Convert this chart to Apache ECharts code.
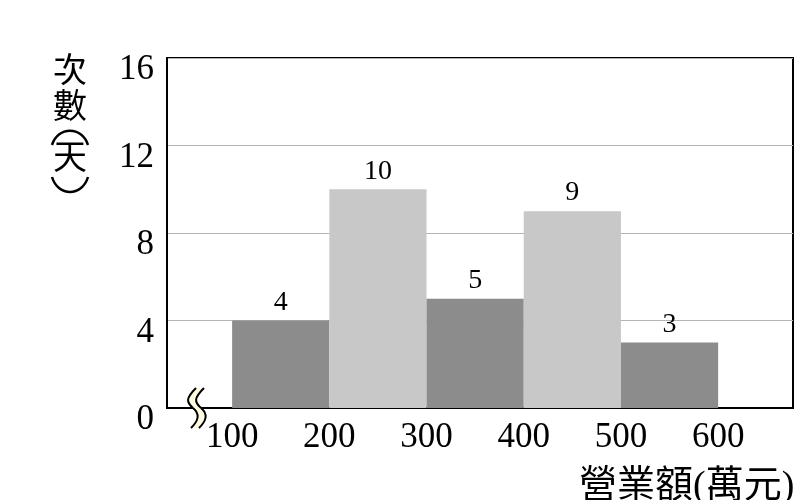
<!DOCTYPE html>
<html>
<head>
<meta charset="utf-8">
<script src="https://cdn.jsdelivr.net/npm/echarts@6/dist/echarts.min.js"></script>
<style>
  html, body { margin: 0; padding: 0; background: #fff; }
  #chart { width: 807px; height: 500px; }
</style>
</head>
<body>
<div id="chart"></div>
<script>
// 營業額分組 (萬元) 與 次數
var binStarts = [100, 200, 300, 400, 500];
var binEnds = [200, 300, 400, 500, 600];
var counts = [4, 10, 5, 9, 3];
var xTicks = [100, 200, 300, 400, 500, 600];
var yTicks = [0, 4, 8, 12, 16];

var serif = "'Liberation Serif', 'Times New Roman', 'Noto Sans CJK TC', serif";
var barColors = ['#8c8c8c', '#c8c8c8'];

var chart = echarts.init(document.getElementById('chart'));

var data = binStarts.map(function (s, i) {
  return [s, binEnds[i], counts[i]];
});

// 斷軸符號 (兩條 S 形曲線)
function wave(dx) {
  return [{
    type: 'bezierCurve', z: 101,
    shape: { x1: 196 + dx, y1: 388, cpx1: 186 + dx, cpy1: 398, cpx2: 186 + dx, cpy2: 402, x2: 193 + dx, y2: 408 },
    style: { stroke: '#000', lineWidth: 2, fill: null }
  }, {
    type: 'bezierCurve', z: 101,
    shape: { x1: 193 + dx, y1: 408, cpx1: 200 + dx, cpy1: 414, cpx2: 199 + dx, cpy2: 420, x2: 191 + dx, y2: 428 },
    style: { stroke: '#000', lineWidth: 2, fill: null }
  }];
}

// 直書的縱軸標題
function vchar(ch, x, y, size) {
  return {
    type: 'text', x: x, y: y,
    style: { text: ch, fill: '#000', font: size + 'px ' + serif, align: 'center', verticalAlign: 'middle' }
  };
}
// 直書括號 ︵ ︶ : y0 端點, y1 控制點
function vparen(y0, y1) {
  return {
    type: 'bezierCurve',
    shape: { x1: 52, y1: y0, cpx1: 58, cpy1: y1, cpx2: 82, cpy2: y1, x2: 88, y2: y0 },
    style: { stroke: '#000', lineWidth: 2.5, fill: null }
  };
}

var option = {
  animation: false,
  grid: {
    left: 167, top: 58, right: 14, bottom: 92,
    show: true, borderColor: '#000', borderWidth: 2,
    outerBoundsMode: 'none'
  },
  xAxis: {
    type: 'value',
    min: 33, max: 677,
    axisLine: { show: true, lineStyle: { color: '#000', width: 2 } },
    axisTick: { show: false },
    splitLine: { show: false },
    axisLabel: {
      customValues: xTicks,
      color: '#000', fontFamily: serif, fontSize: 35, margin: 12
    }
  },
  yAxis: {
    type: 'value',
    min: 0, max: 16, interval: 4,
    axisLine: { show: true, lineStyle: { color: '#000', width: 2 } },
    axisTick: { show: false },
    splitLine: { show: true, lineStyle: { color: '#b4b4b4', width: 1 } },
    axisLabel: {
      color: '#000', fontFamily: serif, fontSize: 35, margin: 13,
      verticalAlign: 'top', lineHeight: 24
    }
  },
  series: [{
    type: 'custom',
    data: data,
    encode: { x: [0, 1], y: 2 },
    renderItem: function (params, api) {
      var p0 = api.coord([api.value(0), api.value(2)]);
      var p1 = api.coord([api.value(1), 0]);
      var mid = api.coord([(api.value(0) + api.value(1)) / 2, api.value(2)]);
      return {
        type: 'group',
        children: [{
          type: 'rect',
          shape: { x: p0[0], y: p0[1], width: p1[0] - p0[0], height: p1[1] - p0[1] },
          style: { fill: barColors[params.dataIndex % 2] }
        }, {
          type: 'text',
          x: mid[0], y: mid[1] - 4,
          style: {
            text: String(api.value(2)),
            fill: '#000', font: '28px ' + serif,
            align: 'center', verticalAlign: 'bottom'
          }
        }]
      };
    }
  }],
  graphic: [
    vchar('次', 70, 73, 34),
    vchar('數', 70, 109, 34),
    vparen(145, 126),
    vchar('天', 70, 160, 34),
    vparen(177, 197),
    {
      type: 'text', left: 579, top: 468,
      style: { text: '營業額(萬元)', fill: '#000', font: '38px ' + serif }
    },
    {
      type: 'polygon', z: 100,
      shape: { points: [[196, 388], [189, 398], [193, 408], [197, 418], [191, 428], [199, 428], [205, 418], [201, 408], [197, 398], [204, 388]] },
      style: { fill: '#fffbe0', stroke: null }
    }
  ].concat(wave(0), wave(8))
};

chart.setOption(option);
</script>
</body>
</html>
